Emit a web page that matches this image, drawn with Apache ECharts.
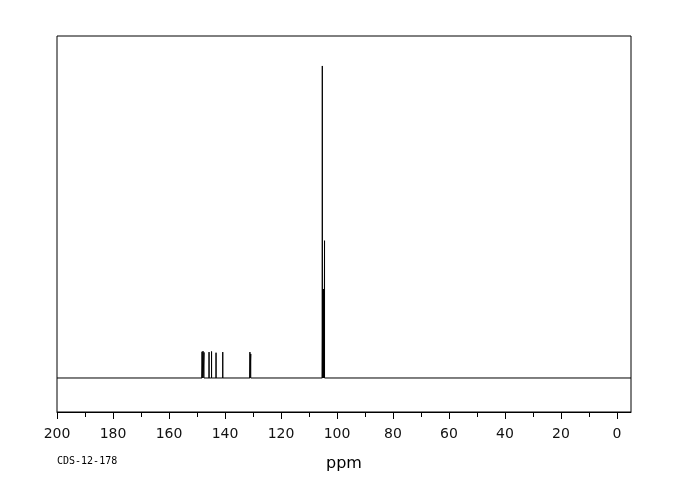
<!DOCTYPE html>
<html>
<head>
<meta charset="utf-8">
<script src="https://cdn.jsdelivr.net/npm/echarts@6/dist/echarts.min.js"></script>
<style>html,body{margin:0;padding:0;background:#fff}#c{width:680px;height:500px}</style>
</head>
<body>
<div id="c"></div>
<script>
// Peak positions (ppm) and relative intensities
const peakPpm    = [148.2, 147.85, 147.5, 145.7, 144.8, 143.2, 140.8, 131.1, 130.8, 105.25, 105.1, 105.0, 104.9, 104.8, 104.7, 104.6, 104.45];
const peakHeight = [8.4,   8.6,    8.2,   8.3,   8.5,   8.1,   8.3,   8.3,   7.7,   100,    28.5,  28.5,  28.5,  28.5,  28.5,  28.5,  44];
const majorTicks = [0, 20, 40, 60, 80, 100, 120, 140, 160, 180, 200];
const minorTicks = [10, 30, 50, 70, 90, 110, 130, 150, 170, 190];
const xRange = [-5, 200];
const yRange = [-10.9, 109.6];
const axisTitle = 'ppm';
const sampleCode = 'CDS-12-178';

const idx = peakPpm.map((p, i) => i).sort((a, b) => peakPpm[b] - peakPpm[a]);
const spectrum = [[xRange[1], 0]];
idx.forEach(i => {
  spectrum.push([peakPpm[i], 0], [peakPpm[i], peakHeight[i]], [peakPpm[i], 0]);
});
spectrum.push([xRange[0], 0]);

const chart = echarts.init(document.getElementById('c'), null, {renderer: 'canvas'});
chart.setOption({
  animation: false,
  backgroundColor: '#fff',
  grid: {left: 57, right: 49, top: 36, bottom: 88, show: true, borderColor: '#000', borderWidth: 1, backgroundColor: 'transparent'},
  xAxis: [{
    type: 'value', inverse: true, min: xRange[0], max: xRange[1],
    name: axisTitle, nameLocation: 'middle', nameGap: 44,
    nameTextStyle: {fontFamily: 'DejaVu Sans', fontSize: 16, color: '#000'},
    axisLine: {show: true, onZero: false, lineStyle: {color: '#000', width: 1}},
    axisTick: {show: true, length: 7, customValues: majorTicks, lineStyle: {color: '#000'}},
    axisLabel: {show: true, margin: 15, customValues: majorTicks, fontFamily: 'DejaVu Sans', fontSize: 14, color: '#111'},
    splitLine: {show: false}
  }, {
    type: 'value', inverse: true, min: xRange[0], max: xRange[1], position: 'bottom',
    axisLine: {show: false, onZero: false},
    axisTick: {show: true, length: 5, customValues: minorTicks, lineStyle: {color: '#000'}},
    axisLabel: {show: false},
    splitLine: {show: false}
  }],
  yAxis: {type: 'value', min: yRange[0], max: yRange[1], show: false, splitLine: {show: false}},
  graphic: [{
    type: 'text', left: 57, top: 456,
    style: {text: sampleCode, fontFamily: 'DejaVu Sans Mono', fontSize: 10, fill: '#000'}
  }],
  series: [{
    type: 'line', xAxisIndex: 0, data: spectrum, showSymbol: false, symbol: 'none',
    lineStyle: {color: '#000', width: 1}, clip: true
  }]
});
</script>
</body>
</html>
